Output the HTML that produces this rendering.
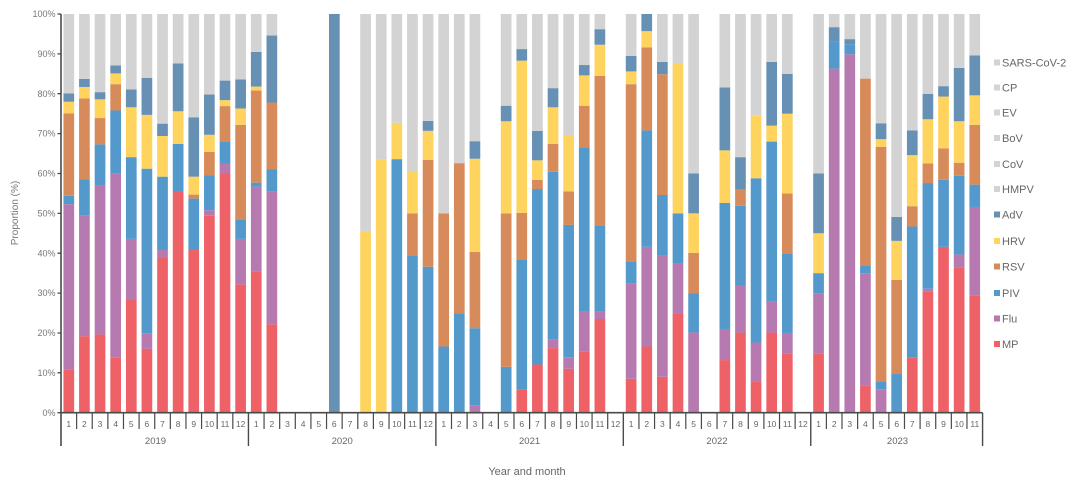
<!DOCTYPE html>
<html>
<head>
<meta charset="utf-8">
<style>
html,body{margin:0;padding:0;background:#fff;}
body{width:1080px;height:482px;overflow:hidden;}
svg{display:block;font-family:"Liberation Sans",sans-serif;}
.mp{fill:#EE6167}.fl{fill:#B67AB0}.pv{fill:#5399CC}.rs{fill:#D88B5A}.hr{fill:#FED35E}.ad{fill:#6690B4}.gy{fill:#D3D3D3}
.tk{font-size:9px;fill:#777;}
.mo{font-size:8.5px;fill:#666;text-anchor:middle;}
.yr{font-size:9.5px;fill:#666;text-anchor:middle;}
.lg{font-size:11px;fill:#666;}
</style>
</head>
<body>
<svg width="1080" height="482" viewBox="0 0 1080 482" xmlns="http://www.w3.org/2000/svg">
<g transform="matrix(1,0,0,-3.987,0,412.7)">
<!-- 2019 -->
<g transform="translate(63.45,0)"><rect class="mp" x="0" width="10.7" y="0" height="10.9"/><rect class="fl" x="0" width="10.7" y="10.9" height="41.4"/><rect class="pv" x="0" width="10.7" y="52.3" height="2.1"/><rect class="rs" x="0" width="10.7" y="54.4" height="20.7"/><rect class="hr" x="0" width="10.7" y="75.1" height="2.9"/><rect class="ad" x="0" width="10.7" y="78" height="2.1"/><rect class="gy" x="0" width="10.7" y="80.1" height="19.9"/></g>
<g transform="translate(79.07,0)"><rect class="mp" x="0" width="10.7" y="0" height="19.2"/><rect class="fl" x="0" width="10.7" y="19.2" height="30.2"/><rect class="pv" x="0" width="10.7" y="49.4" height="9.1"/><rect class="rs" x="0" width="10.7" y="58.5" height="20.3"/><rect class="hr" x="0" width="10.7" y="78.8" height="2.9"/><rect class="ad" x="0" width="10.7" y="81.7" height="2"/><rect class="gy" x="0" width="10.7" y="83.7" height="16.3"/></g>
<g transform="translate(94.69,0)"><rect class="mp" x="0" width="10.7" y="0" height="19.6"/><rect class="fl" x="0" width="10.7" y="19.6" height="37.4"/><rect class="pv" x="0" width="10.7" y="57" height="10.3"/><rect class="rs" x="0" width="10.7" y="67.3" height="6.6"/><rect class="hr" x="0" width="10.7" y="73.9" height="4.7"/><rect class="ad" x="0" width="10.7" y="78.6" height="1.8"/><rect class="gy" x="0" width="10.7" y="80.4" height="19.6"/></g>
<g transform="translate(110.31,0)"><rect class="mp" x="0" width="10.7" y="0" height="13.9"/><rect class="fl" x="0" width="10.7" y="13.9" height="46.2"/><rect class="pv" x="0" width="10.7" y="60.1" height="15.7"/><rect class="rs" x="0" width="10.7" y="75.8" height="6.6"/><rect class="hr" x="0" width="10.7" y="82.4" height="2.7"/><rect class="ad" x="0" width="10.7" y="85.1" height="2"/><rect class="gy" x="0" width="10.7" y="87.1" height="12.9"/></g>
<g transform="translate(125.93,0)"><rect class="mp" x="0" width="10.7" y="0" height="28.4"/><rect class="fl" x="0" width="10.7" y="28.4" height="15.2"/><rect class="pv" x="0" width="10.7" y="43.6" height="20.5"/><rect class="hr" x="0" width="10.7" y="64.1" height="12.5"/><rect class="ad" x="0" width="10.7" y="76.6" height="4.5"/><rect class="gy" x="0" width="10.7" y="81.1" height="18.9"/></g>
<g transform="translate(141.55,0)"><rect class="mp" x="0" width="10.7" y="0" height="16"/><rect class="fl" x="0" width="10.7" y="16" height="3.9"/><rect class="pv" x="0" width="10.7" y="19.9" height="41.3"/><rect class="hr" x="0" width="10.7" y="61.2" height="13.5"/><rect class="ad" x="0" width="10.7" y="74.7" height="9.3"/><rect class="gy" x="0" width="10.7" y="84" height="16"/></g>
<g transform="translate(157.17,0)"><rect class="mp" x="0" width="10.7" y="0" height="38.8"/><rect class="fl" x="0" width="10.7" y="38.8" height="2"/><rect class="pv" x="0" width="10.7" y="40.8" height="18.4"/><rect class="hr" x="0" width="10.7" y="59.2" height="10.2"/><rect class="ad" x="0" width="10.7" y="69.4" height="3.1"/><rect class="gy" x="0" width="10.7" y="72.5" height="27.5"/></g>
<g transform="translate(172.79,0)"><rect class="mp" x="0" width="10.7" y="0" height="55.6"/><rect class="pv" x="0" width="10.7" y="55.6" height="11.8"/><rect class="hr" x="0" width="10.7" y="67.4" height="8.2"/><rect class="ad" x="0" width="10.7" y="75.6" height="12"/><rect class="gy" x="0" width="10.7" y="87.6" height="12.4"/></g>
<g transform="translate(188.41,0)"><rect class="mp" x="0" width="10.7" y="0" height="40.8"/><rect class="pv" x="0" width="10.7" y="40.8" height="12.9"/><rect class="rs" x="0" width="10.7" y="53.7" height="1"/><rect class="hr" x="0" width="10.7" y="54.7" height="4.5"/><rect class="ad" x="0" width="10.7" y="59.2" height="14.9"/><rect class="gy" x="0" width="10.7" y="74.1" height="25.9"/></g>
<g transform="translate(204.03,0)"><rect class="mp" x="0" width="10.7" y="0" height="49.4"/><rect class="fl" x="0" width="10.7" y="49.4" height="1.4"/><rect class="pv" x="0" width="10.7" y="50.8" height="8.7"/><rect class="rs" x="0" width="10.7" y="59.5" height="5.9"/><rect class="hr" x="0" width="10.7" y="65.4" height="4.3"/><rect class="ad" x="0" width="10.7" y="69.7" height="10.1"/><rect class="gy" x="0" width="10.7" y="79.8" height="20.2"/></g>
<g transform="translate(219.65,0)"><rect class="mp" x="0" width="10.7" y="0" height="60"/><rect class="fl" x="0" width="10.7" y="60" height="2.5"/><rect class="pv" x="0" width="10.7" y="62.5" height="5.4"/><rect class="rs" x="0" width="10.7" y="67.9" height="9"/><rect class="hr" x="0" width="10.7" y="76.9" height="1.5"/><rect class="ad" x="0" width="10.7" y="78.4" height="4.9"/><rect class="gy" x="0" width="10.7" y="83.3" height="16.7"/></g>
<g transform="translate(235.27,0)"><rect class="mp" x="0" width="10.7" y="0" height="32.2"/><rect class="fl" x="0" width="10.7" y="32.2" height="11.4"/><rect class="pv" x="0" width="10.7" y="43.6" height="4.9"/><rect class="rs" x="0" width="10.7" y="48.5" height="23.7"/><rect class="hr" x="0" width="10.7" y="72.2" height="4.1"/><rect class="ad" x="0" width="10.7" y="76.3" height="7.3"/><rect class="gy" x="0" width="10.7" y="83.6" height="16.4"/></g>
<!-- 2020 -->
<g transform="translate(250.89,0)"><rect class="mp" x="0" width="10.7" y="0" height="35.5"/><rect class="fl" x="0" width="10.7" y="35.5" height="21.2"/><rect class="pv" x="0" width="10.7" y="56.7" height="1"/><rect class="rs" x="0" width="10.7" y="57.7" height="23.1"/><rect class="hr" x="0" width="10.7" y="80.8" height="1"/><rect class="ad" x="0" width="10.7" y="81.8" height="8.7"/><rect class="gy" x="0" width="10.7" y="90.5" height="9.5"/></g>
<g transform="translate(266.51,0)"><rect class="mp" x="0" width="10.7" y="0" height="22.2"/><rect class="fl" x="0" width="10.7" y="22.2" height="33.2"/><rect class="pv" x="0" width="10.7" y="55.4" height="5.6"/><rect class="rs" x="0" width="10.7" y="61" height="16.8"/><rect class="ad" x="0" width="10.7" y="77.8" height="16.8"/><rect class="gy" x="0" width="10.7" y="94.6" height="5.4"/></g>
<g transform="translate(328.99,0)"><rect class="ad" x="0" width="10.7" y="0" height="100"/></g>
<g transform="translate(360.23,0)"><rect class="hr" x="0" width="10.7" y="0" height="45.6"/><rect class="gy" x="0" width="10.7" y="45.6" height="54.4"/></g>
<g transform="translate(375.85,0)"><rect class="hr" x="0" width="10.7" y="0" height="63.6"/><rect class="gy" x="0" width="10.7" y="63.6" height="36.4"/></g>
<g transform="translate(391.47,0)"><rect class="pv" x="0" width="10.7" y="0" height="63.6"/><rect class="hr" x="0" width="10.7" y="63.6" height="9.1"/><rect class="gy" x="0" width="10.7" y="72.7" height="27.3"/></g>
<g transform="translate(407.09,0)"><rect class="pv" x="0" width="10.7" y="0" height="39.5"/><rect class="rs" x="0" width="10.7" y="39.5" height="10.5"/><rect class="hr" x="0" width="10.7" y="50" height="10.6"/><rect class="gy" x="0" width="10.7" y="60.6" height="39.4"/></g>
<g transform="translate(422.71,0)"><rect class="pv" x="0" width="10.7" y="0" height="36.6"/><rect class="rs" x="0" width="10.7" y="36.6" height="26.8"/><rect class="hr" x="0" width="10.7" y="63.4" height="7.3"/><rect class="ad" x="0" width="10.7" y="70.7" height="2.5"/><rect class="gy" x="0" width="10.7" y="73.2" height="26.8"/></g>
<!-- 2021 -->
<g transform="translate(438.33,0)"><rect class="pv" x="0" width="10.7" y="0" height="16.6"/><rect class="rs" x="0" width="10.7" y="16.6" height="33.4"/><rect class="gy" x="0" width="10.7" y="50" height="50"/></g>
<g transform="translate(453.95,0)"><rect class="pv" x="0" width="10.7" y="0" height="24.9"/><rect class="rs" x="0" width="10.7" y="24.9" height="37.7"/><rect class="gy" x="0" width="10.7" y="62.6" height="37.4"/></g>
<g transform="translate(469.57,0)"><rect class="fl" x="0" width="10.7" y="0" height="1.9"/><rect class="pv" x="0" width="10.7" y="1.9" height="19.3"/><rect class="rs" x="0" width="10.7" y="21.2" height="19.1"/><rect class="hr" x="0" width="10.7" y="40.3" height="23.4"/><rect class="ad" x="0" width="10.7" y="63.7" height="4.4"/><rect class="gy" x="0" width="10.7" y="68.1" height="31.9"/></g>
<g transform="translate(500.81,0)"><rect class="pv" x="0" width="10.7" y="0" height="11.5"/><rect class="rs" x="0" width="10.7" y="11.5" height="38.5"/><rect class="hr" x="0" width="10.7" y="50" height="23.1"/><rect class="ad" x="0" width="10.7" y="73.1" height="3.9"/><rect class="gy" x="0" width="10.7" y="77" height="23"/></g>
<g transform="translate(516.43,0)"><rect class="mp" x="0" width="10.7" y="0" height="5.9"/><rect class="pv" x="0" width="10.7" y="5.9" height="32.5"/><rect class="rs" x="0" width="10.7" y="38.4" height="11.7"/><rect class="hr" x="0" width="10.7" y="50.1" height="38.2"/><rect class="ad" x="0" width="10.7" y="88.3" height="2.9"/><rect class="gy" x="0" width="10.7" y="91.2" height="8.8"/></g>
<g transform="translate(532.05,0)"><rect class="mp" x="0" width="10.7" y="0" height="12.1"/><rect class="pv" x="0" width="10.7" y="12.1" height="44"/><rect class="rs" x="0" width="10.7" y="56.1" height="2.3"/><rect class="hr" x="0" width="10.7" y="58.4" height="4.9"/><rect class="ad" x="0" width="10.7" y="63.3" height="7.4"/><rect class="gy" x="0" width="10.7" y="70.7" height="29.3"/></g>
<g transform="translate(547.67,0)"><rect class="mp" x="0" width="10.7" y="0" height="16.2"/><rect class="fl" x="0" width="10.7" y="16.2" height="2.2"/><rect class="pv" x="0" width="10.7" y="18.4" height="42"/><rect class="rs" x="0" width="10.7" y="60.4" height="7"/><rect class="hr" x="0" width="10.7" y="67.4" height="9.2"/><rect class="ad" x="0" width="10.7" y="76.6" height="4.8"/><rect class="gy" x="0" width="10.7" y="81.4" height="18.6"/></g>
<g transform="translate(563.29,0)"><rect class="mp" x="0" width="10.7" y="0" height="11"/><rect class="fl" x="0" width="10.7" y="11" height="2.9"/><rect class="pv" x="0" width="10.7" y="13.9" height="33.2"/><rect class="rs" x="0" width="10.7" y="47.1" height="8.4"/><rect class="hr" x="0" width="10.7" y="55.5" height="14"/><rect class="gy" x="0" width="10.7" y="69.5" height="30.5"/></g>
<g transform="translate(578.91,0)"><rect class="mp" x="0" width="10.7" y="0" height="15.4"/><rect class="fl" x="0" width="10.7" y="15.4" height="10.1"/><rect class="pv" x="0" width="10.7" y="25.5" height="41.1"/><rect class="rs" x="0" width="10.7" y="66.6" height="10.4"/><rect class="hr" x="0" width="10.7" y="77" height="7.6"/><rect class="ad" x="0" width="10.7" y="84.6" height="2.6"/><rect class="gy" x="0" width="10.7" y="87.2" height="12.8"/></g>
<g transform="translate(594.53,0)"><rect class="mp" x="0" width="10.7" y="0" height="23.5"/><rect class="fl" x="0" width="10.7" y="23.5" height="1.9"/><rect class="pv" x="0" width="10.7" y="25.4" height="21.6"/><rect class="rs" x="0" width="10.7" y="47" height="37.5"/><rect class="hr" x="0" width="10.7" y="84.5" height="7.8"/><rect class="ad" x="0" width="10.7" y="92.3" height="3.9"/><rect class="gy" x="0" width="10.7" y="96.2" height="3.8"/></g>
<!-- 2022 -->
<g transform="translate(625.77,0)"><rect class="mp" x="0" width="10.7" y="0" height="8.5"/><rect class="fl" x="0" width="10.7" y="8.5" height="24"/><rect class="pv" x="0" width="10.7" y="32.5" height="5.4"/><rect class="rs" x="0" width="10.7" y="37.9" height="44.5"/><rect class="hr" x="0" width="10.7" y="82.4" height="3.2"/><rect class="ad" x="0" width="10.7" y="85.6" height="3.9"/><rect class="gy" x="0" width="10.7" y="89.5" height="10.5"/></g>
<g transform="translate(641.39,0)"><rect class="mp" x="0" width="10.7" y="0" height="16.6"/><rect class="fl" x="0" width="10.7" y="16.6" height="25"/><rect class="pv" x="0" width="10.7" y="41.6" height="29.2"/><rect class="rs" x="0" width="10.7" y="70.8" height="20.8"/><rect class="hr" x="0" width="10.7" y="91.6" height="4.1"/><rect class="ad" x="0" width="10.7" y="95.7" height="4.3"/></g>
<g transform="translate(657.01,0)"><rect class="mp" x="0" width="10.7" y="0" height="9"/><rect class="fl" x="0" width="10.7" y="9" height="30.4"/><rect class="pv" x="0" width="10.7" y="39.4" height="15.2"/><rect class="rs" x="0" width="10.7" y="54.6" height="30.3"/><rect class="ad" x="0" width="10.7" y="84.9" height="3.1"/><rect class="gy" x="0" width="10.7" y="88" height="12"/></g>
<g transform="translate(672.63,0)"><rect class="mp" x="0" width="10.7" y="0" height="24.9"/><rect class="fl" x="0" width="10.7" y="24.9" height="12.5"/><rect class="pv" x="0" width="10.7" y="37.4" height="12.6"/><rect class="hr" x="0" width="10.7" y="50" height="37.6"/><rect class="gy" x="0" width="10.7" y="87.6" height="12.4"/></g>
<g transform="translate(688.25,0)"><rect class="fl" x="0" width="10.7" y="0" height="20.1"/><rect class="pv" x="0" width="10.7" y="20.1" height="9.9"/><rect class="rs" x="0" width="10.7" y="30" height="10.1"/><rect class="hr" x="0" width="10.7" y="40.1" height="9.9"/><rect class="ad" x="0" width="10.7" y="50" height="10"/><rect class="gy" x="0" width="10.7" y="60" height="40"/></g>
<g transform="translate(719.49,0)"><rect class="mp" x="0" width="10.7" y="0" height="13.2"/><rect class="fl" x="0" width="10.7" y="13.2" height="7.8"/><rect class="pv" x="0" width="10.7" y="21" height="31.6"/><rect class="hr" x="0" width="10.7" y="52.6" height="13.2"/><rect class="ad" x="0" width="10.7" y="65.8" height="15.8"/><rect class="gy" x="0" width="10.7" y="81.6" height="18.4"/></g>
<g transform="translate(735.11,0)"><rect class="mp" x="0" width="10.7" y="0" height="20.1"/><rect class="fl" x="0" width="10.7" y="20.1" height="11.8"/><rect class="pv" x="0" width="10.7" y="31.9" height="20"/><rect class="rs" x="0" width="10.7" y="51.9" height="4.1"/><rect class="ad" x="0" width="10.7" y="56" height="8.1"/><rect class="gy" x="0" width="10.7" y="64.1" height="35.9"/></g>
<g transform="translate(750.73,0)"><rect class="mp" x="0" width="10.7" y="0" height="7.8"/><rect class="fl" x="0" width="10.7" y="7.8" height="9.8"/><rect class="pv" x="0" width="10.7" y="17.6" height="41.2"/><rect class="hr" x="0" width="10.7" y="58.8" height="15.8"/><rect class="gy" x="0" width="10.7" y="74.6" height="25.4"/></g>
<g transform="translate(766.35,0)"><rect class="mp" x="0" width="10.7" y="0" height="20.1"/><rect class="fl" x="0" width="10.7" y="20.1" height="7.9"/><rect class="pv" x="0" width="10.7" y="28" height="40"/><rect class="hr" x="0" width="10.7" y="68" height="4"/><rect class="ad" x="0" width="10.7" y="72" height="16"/><rect class="gy" x="0" width="10.7" y="88" height="12"/></g>
<g transform="translate(781.97,0)"><rect class="mp" x="0" width="10.7" y="0" height="14.9"/><rect class="fl" x="0" width="10.7" y="14.9" height="5.1"/><rect class="pv" x="0" width="10.7" y="20" height="20"/><rect class="rs" x="0" width="10.7" y="40" height="15"/><rect class="hr" x="0" width="10.7" y="55" height="20"/><rect class="ad" x="0" width="10.7" y="75" height="10"/><rect class="gy" x="0" width="10.7" y="85" height="15"/></g>
<!-- 2023 -->
<g transform="translate(813.21,0)"><rect class="mp" x="0" width="10.7" y="0" height="14.9"/><rect class="fl" x="0" width="10.7" y="14.9" height="15.1"/><rect class="pv" x="0" width="10.7" y="30" height="5"/><rect class="hr" x="0" width="10.7" y="35" height="10"/><rect class="ad" x="0" width="10.7" y="45" height="15"/><rect class="gy" x="0" width="10.7" y="60" height="40"/></g>
<g transform="translate(828.83,0)"><rect class="fl" x="0" width="10.7" y="0" height="86.3"/><rect class="pv" x="0" width="10.7" y="86.3" height="6.9"/><rect class="ad" x="0" width="10.7" y="93.2" height="3.5"/><rect class="gy" x="0" width="10.7" y="96.7" height="3.3"/></g>
<g transform="translate(844.45,0)"><rect class="fl" x="0" width="10.7" y="0" height="89.9"/><rect class="pv" x="0" width="10.7" y="89.9" height="2.5"/><rect class="ad" x="0" width="10.7" y="92.4" height="1.3"/><rect class="gy" x="0" width="10.7" y="93.7" height="6.3"/></g>
<g transform="translate(860.07,0)"><rect class="mp" x="0" width="10.7" y="0" height="6.9"/><rect class="fl" x="0" width="10.7" y="6.9" height="28.1"/><rect class="pv" x="0" width="10.7" y="35" height="2"/><rect class="rs" x="0" width="10.7" y="37" height="46.8"/><rect class="gy" x="0" width="10.7" y="83.8" height="16.2"/></g>
<g transform="translate(875.69,0)"><rect class="fl" x="0" width="10.7" y="0" height="5.9"/><rect class="pv" x="0" width="10.7" y="5.9" height="2"/><rect class="rs" x="0" width="10.7" y="7.9" height="58.8"/><rect class="hr" x="0" width="10.7" y="66.7" height="1.9"/><rect class="ad" x="0" width="10.7" y="68.6" height="4"/><rect class="gy" x="0" width="10.7" y="72.6" height="27.4"/></g>
<g transform="translate(891.31,0)"><rect class="pv" x="0" width="10.7" y="0" height="9.7"/><rect class="rs" x="0" width="10.7" y="9.7" height="23.6"/><rect class="hr" x="0" width="10.7" y="33.3" height="9.8"/><rect class="ad" x="0" width="10.7" y="43.1" height="6"/><rect class="gy" x="0" width="10.7" y="49.1" height="50.9"/></g>
<g transform="translate(906.93,0)"><rect class="mp" x="0" width="10.7" y="0" height="13.9"/><rect class="pv" x="0" width="10.7" y="13.9" height="32.8"/><rect class="rs" x="0" width="10.7" y="46.7" height="5.1"/><rect class="hr" x="0" width="10.7" y="51.8" height="12.8"/><rect class="ad" x="0" width="10.7" y="64.6" height="6.2"/><rect class="gy" x="0" width="10.7" y="70.8" height="29.2"/></g>
<g transform="translate(922.55,0)"><rect class="mp" x="0" width="10.7" y="0" height="30.3"/><rect class="fl" x="0" width="10.7" y="30.3" height="0.8"/><rect class="pv" x="0" width="10.7" y="31.1" height="26.5"/><rect class="rs" x="0" width="10.7" y="57.6" height="4.9"/><rect class="hr" x="0" width="10.7" y="62.5" height="11.1"/><rect class="ad" x="0" width="10.7" y="73.6" height="6.4"/><rect class="gy" x="0" width="10.7" y="80" height="20"/></g>
<g transform="translate(938.17,0)"><rect class="mp" x="0" width="10.7" y="0" height="41.6"/><rect class="pv" x="0" width="10.7" y="41.6" height="16.8"/><rect class="rs" x="0" width="10.7" y="58.4" height="7.9"/><rect class="hr" x="0" width="10.7" y="66.3" height="13"/><rect class="ad" x="0" width="10.7" y="79.3" height="2.6"/><rect class="gy" x="0" width="10.7" y="81.9" height="18.1"/></g>
<g transform="translate(953.79,0)"><rect class="mp" x="0" width="10.7" y="0" height="36.5"/><rect class="fl" x="0" width="10.7" y="36.5" height="3.2"/><rect class="pv" x="0" width="10.7" y="39.7" height="19.7"/><rect class="rs" x="0" width="10.7" y="59.4" height="3.3"/><rect class="hr" x="0" width="10.7" y="62.7" height="10.4"/><rect class="ad" x="0" width="10.7" y="73.1" height="13.4"/><rect class="gy" x="0" width="10.7" y="86.5" height="13.5"/></g>
<g transform="translate(969.41,0)"><rect class="mp" x="0" width="10.7" y="0" height="29.3"/><rect class="fl" x="0" width="10.7" y="29.3" height="22.3"/><rect class="pv" x="0" width="10.7" y="51.6" height="5.6"/><rect class="rs" x="0" width="10.7" y="57.2" height="15"/><rect class="hr" x="0" width="10.7" y="72.2" height="7.4"/><rect class="ad" x="0" width="10.7" y="79.6" height="10"/><rect class="gy" x="0" width="10.7" y="89.6" height="10.4"/></g>
</g>

<!-- axes -->
<g stroke="#4a4a4a" fill="none">
<path d="M61 14 V446" stroke-width="1.6"/>
<path d="M61 412.7 H982.6" stroke-width="1.6"/>
<path d="M57.5 412.7 H61 M57.5 372.8 H61 M57.5 333 H61 M57.5 293.1 H61 M57.5 253.2 H61 M57.5 213.4 H61 M57.5 173.5 H61 M57.5 133.6 H61 M57.5 93.7 H61 M57.5 53.9 H61 M57.5 14 H61" stroke-width="1.3"/>
<path d="M248.44 412.7 V446 M435.88 412.7 V446 M623.32 412.7 V446 M810.76 412.7 V446 M982.58 412.7 V446" stroke-width="1.4"/>
<path stroke-width="1.2" d="M76.62 412.7V429M92.24 412.7V429M107.86 412.7V429M123.48 412.7V429M139.1 412.7V429M154.72 412.7V429M170.34 412.7V429M185.96 412.7V429M201.58 412.7V429M217.2 412.7V429M232.82 412.7V429M264.06 412.7V429M279.68 412.7V429M295.3 412.7V429M310.92 412.7V429M326.54 412.7V429M342.16 412.7V429M357.78 412.7V429M373.4 412.7V429M389.02 412.7V429M404.64 412.7V429M420.26 412.7V429M451.5 412.7V429M467.12 412.7V429M482.74 412.7V429M498.36 412.7V429M513.98 412.7V429M529.6 412.7V429M545.22 412.7V429M560.84 412.7V429M576.46 412.7V429M592.08 412.7V429M607.7 412.7V429M638.94 412.7V429M654.56 412.7V429M670.18 412.7V429M685.8 412.7V429M701.42 412.7V429M717.04 412.7V429M732.66 412.7V429M748.28 412.7V429M763.9 412.7V429M779.52 412.7V429M795.14 412.7V429M826.38 412.7V429M842 412.7V429M857.62 412.7V429M873.24 412.7V429M888.86 412.7V429M904.48 412.7V429M920.1 412.7V429M935.72 412.7V429M951.34 412.7V429M966.96 412.7V429"/>
</g>

<!-- y tick labels -->
<g class="tk" text-anchor="end">
<text x="55.5" y="415.8">0%</text>
<text x="55.5" y="375.9">10%</text>
<text x="55.5" y="336.1">20%</text>
<text x="55.5" y="296.2">30%</text>
<text x="55.5" y="256.3">40%</text>
<text x="55.5" y="216.5">50%</text>
<text x="55.5" y="176.6">60%</text>
<text x="55.5" y="136.7">70%</text>
<text x="55.5" y="96.8">80%</text>
<text x="55.5" y="57">90%</text>
<text x="55.5" y="17.1">100%</text>
</g>
<text transform="translate(18,213) rotate(-90)" text-anchor="middle" style="font-size:10px;fill:#777">Proportion (%)</text>

<!-- month labels -->
<g class="mo">
<text x="68.8" y="427">1</text><text x="84.4" y="427">2</text><text x="100" y="427">3</text><text x="115.7" y="427">4</text><text x="131.3" y="427">5</text><text x="146.9" y="427">6</text><text x="162.5" y="427">7</text><text x="178.1" y="427">8</text><text x="193.8" y="427">9</text><text x="209.4" y="427">10</text><text x="225" y="427">11</text><text x="240.6" y="427">12</text>
<text x="256.2" y="427">1</text><text x="271.9" y="427">2</text><text x="287.5" y="427">3</text><text x="303.1" y="427">4</text><text x="318.7" y="427">5</text><text x="334.3" y="427">6</text><text x="350" y="427">7</text><text x="365.6" y="427">8</text><text x="381.2" y="427">9</text><text x="396.8" y="427">10</text><text x="412.5" y="427">11</text><text x="428.1" y="427">12</text>
<text x="443.7" y="427">1</text><text x="459.3" y="427">2</text><text x="474.9" y="427">3</text><text x="490.6" y="427">4</text><text x="506.2" y="427">5</text><text x="521.8" y="427">6</text><text x="537.4" y="427">7</text><text x="553" y="427">8</text><text x="568.7" y="427">9</text><text x="584.3" y="427">10</text><text x="599.9" y="427">11</text><text x="615.5" y="427">12</text>
<text x="631.1" y="427">1</text><text x="646.8" y="427">2</text><text x="662.4" y="427">3</text><text x="678" y="427">4</text><text x="693.6" y="427">5</text><text x="709.2" y="427">6</text><text x="724.9" y="427">7</text><text x="740.5" y="427">8</text><text x="756.1" y="427">9</text><text x="771.7" y="427">10</text><text x="787.3" y="427">11</text><text x="803" y="427">12</text>
<text x="818.6" y="427">1</text><text x="834.2" y="427">2</text><text x="849.8" y="427">3</text><text x="865.4" y="427">4</text><text x="881.1" y="427">5</text><text x="896.7" y="427">6</text><text x="912.3" y="427">7</text><text x="927.9" y="427">8</text><text x="943.5" y="427">9</text><text x="959.2" y="427">10</text><text x="974.8" y="427">11</text>
</g>
<g class="yr">
<text x="155.5" y="444">2019</text>
<text x="342.2" y="444">2020</text>
<text x="529.6" y="444">2021</text>
<text x="717" y="444">2022</text>
<text x="897.5" y="444">2023</text>
</g>
<text x="527" y="475" text-anchor="middle" style="font-size:11px;fill:#666">Year and month</text>

<!-- legend -->
<g>
<rect x="994" y="59.5" width="6" height="6" class="gy"/><text class="lg" x="1002" y="66.5">SARS-CoV-2</text>
<rect x="994" y="84.5" width="6" height="6" class="gy"/><text class="lg" x="1002" y="91.5">CP</text>
<rect x="994" y="109.5" width="6" height="6" class="gy"/><text class="lg" x="1002" y="116.5">EV</text>
<rect x="994" y="135" width="6" height="6" class="gy"/><text class="lg" x="1002" y="142">BoV</text>
<rect x="994" y="161" width="6" height="6" class="gy"/><text class="lg" x="1002" y="168">CoV</text>
<rect x="994" y="186" width="6" height="6" class="gy"/><text class="lg" x="1002" y="193">HMPV</text>
<rect x="994" y="211.5" width="6" height="6" class="ad"/><text class="lg" x="1002" y="218.5">AdV</text>
<rect x="994" y="238" width="6" height="6" class="hr"/><text class="lg" x="1002" y="245">HRV</text>
<rect x="994" y="263.5" width="6" height="6" class="rs"/><text class="lg" x="1002" y="270.5">RSV</text>
<rect x="994" y="290" width="6" height="6" class="pv"/><text class="lg" x="1002" y="297">PIV</text>
<rect x="994" y="315.5" width="6" height="6" class="fl"/><text class="lg" x="1002" y="322.5">Flu</text>
<rect x="994" y="341" width="6" height="6" class="mp"/><text class="lg" x="1002" y="348">MP</text>
</g>
</svg>
</body>
</html>
